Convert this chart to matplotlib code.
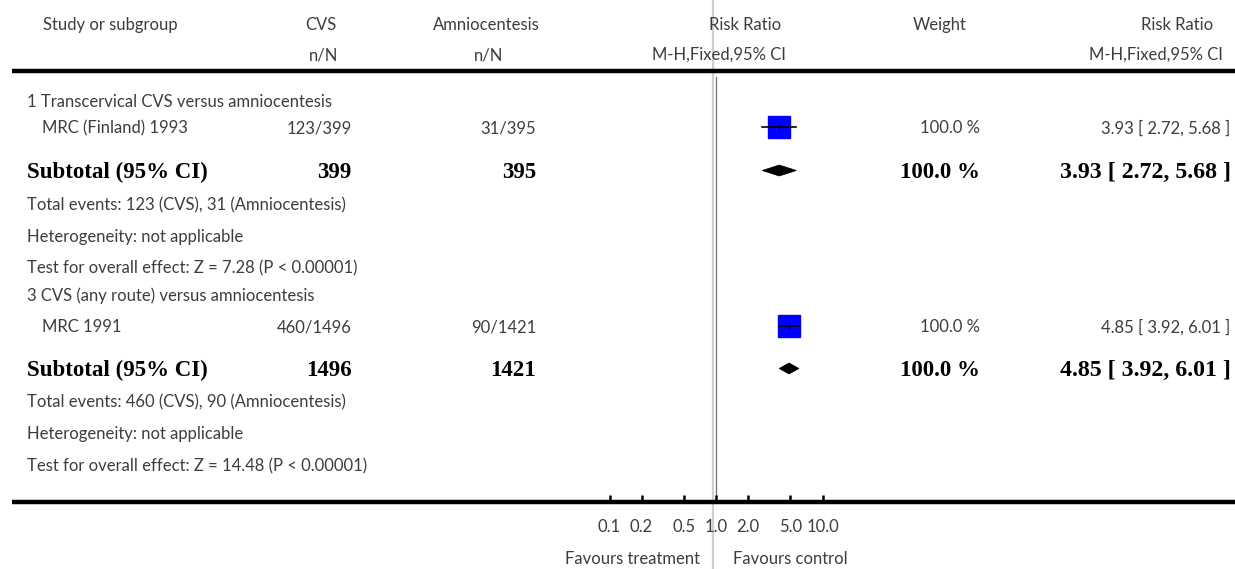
import numpy as np
import matplotlib
matplotlib.use("Agg")
import matplotlib.pyplot as plt
from matplotlib.patches import Polygon

# ---- data -------------------------------------------------------------
group_titles = ["1 Transcervical CVS versus amniocentesis",
                "3 CVS (any route) versus amniocentesis"]
study_names = ["MRC (Finland) 1993", "MRC 1991"]
cvs_events = [123, 460]
cvs_total = [399, 1496]
amnio_events = [31, 90]
amnio_total = [395, 1421]
rr_est = [3.93, 4.85]
rr_lo = [2.72, 3.92]
rr_hi = [5.68, 6.01]
weights = [100.0, 100.0]
z_values = ["7.28", "14.48"]
tick_values = [0.1, 0.2, 0.5, 1.0, 2.0, 5.0, 10.0]
tick_labels = ["0.1", "0.2", "0.5", "1.0", "2.0", "5.0", "10.0"]

W, H = 1235, 569
fig = plt.figure(figsize=(W / 100, H / 100), dpi=100)

# layout axes in pixel units
bg = fig.add_axes([0, 0, 1, 1])
bg.set_xlim(0, W)
bg.set_ylim(H, 0)
bg.axis("off")

# forest plot axes with log scale, null line at x=716 px, ~106.5 px/decade
x_null, decade = 716.0, 106.5
px_l, px_r = 560.0, 880.0
fp = fig.add_axes([px_l / W, 0, (px_r - px_l) / W, 1])
fp.set_xscale("log")
fp.set_xlim(10 ** ((px_l - x_null) / decade), 10 ** ((px_r - x_null) / decade))
fp.set_ylim(H, 0)
fp.axis("off")
fp.patch.set_alpha(0)

SANS = ["Lato", "DejaVu Sans"]
SERIF = ["Liberation Serif", "DejaVu Serif"]
TXT = "#3d3d3d"
fs = 12.0
bfs = 16.5


def t(x, y, s, ha="left", bold=False, size=None):
    if bold:
        bg.text(x, y, s, ha=ha, va="center", family=SERIF, weight="bold",
                size=size or bfs, color="black")
    else:
        bg.text(x, y, s, ha=ha, va="center", family=SANS, weight="normal",
                size=size or fs, color=TXT)


# header
t(110, 25, "Study or subgroup", ha="center")
t(321, 25, "CVS", ha="center")
t(324, 55, "n/N", ha="center")
t(486, 25, "Amniocentesis", ha="center")
t(489, 55, "n/N", ha="center")
t(745, 25, "Risk Ratio", ha="center")
t(719, 55, "M-H,Fixed,95% CI", ha="center")
t(940, 25, "Weight", ha="center")
t(1213, 25, "Risk Ratio", ha="right")
t(1223, 55, "M-H,Fixed,95% CI", ha="right")

# vertical reference lines
bg.plot([713, 713], [0, H], color="#cfcfcf", lw=1.6, zorder=1)
fp.plot([1.0, 1.0], [77, 500], color="#707070", lw=0.9, zorder=1)

# horizontal rules
bg.plot([12, W], [71, 71], color="black", lw=3.2, solid_capstyle="butt")
bg.plot([12, W], [502, 502], color="black", lw=3.2, solid_capstyle="butt")

# rows
row_sets = [
    dict(title=102, study=128, sub=172, ev=205, het=237, test=268),
    dict(title=296, study=327, sub=370, ev=402, het=434, test=466),
]
for i, r in enumerate(row_sets):
    t(27, r["title"], group_titles[i])
    t(42, r["study"], study_names[i])
    t(352, r["study"], f"{cvs_events[i]}/{cvs_total[i]}", ha="right")
    t(536, r["study"], f"{amnio_events[i]}/{amnio_total[i]}", ha="right")
    t(980, r["study"], f"{weights[i]:.1f} %", ha="right")
    t(1230, r["study"], f"{rr_est[i]:.2f} [ {rr_lo[i]:.2f}, {rr_hi[i]:.2f} ]", ha="right")

    t(27, r["sub"], "Subtotal (95% CI)", bold=True)
    t(352, r["sub"], f"{cvs_total[i]}", ha="right", bold=True)
    t(536, r["sub"], f"{amnio_total[i]}", ha="right", bold=True)
    t(980, r["sub"], f"{weights[i]:.1f} %", ha="right", bold=True)
    t(1231, r["sub"], f"{rr_est[i]:.2f} [ {rr_lo[i]:.2f}, {rr_hi[i]:.2f} ]",
      ha="right", bold=True, size=17.2)

    t(27, r["ev"], f"Total events: {cvs_events[i]} (CVS), {amnio_events[i]} (Amniocentesis)")
    t(27, r["het"], "Heterogeneity: not applicable")
    t(27, r["test"], f"Test for overall effect: Z = {z_values[i]} (P < 0.00001)")

    # study square + CI
    fp.plot([rr_est[i]], [r["study"] - 1], marker="s", ms=15.8, color="#0000ff",
            mec="#0000ff", zorder=3, linestyle="none")
    fp.plot([rr_lo[i], rr_hi[i]], [r["study"] - 1, r["study"] - 1],
            color="black", lw=1.2, zorder=4)
    fp.plot([rr_est[i], rr_est[i]], [r["study"] - 4, r["study"] + 2],
            color="black", lw=0.9, zorder=4)

    # subtotal diamond
    yc = r["sub"] - 1.5
    hh = 5.5
    fp.add_patch(Polygon([(rr_lo[i], yc), (rr_est[i], yc - hh),
                          (rr_hi[i], yc), (rr_est[i], yc + hh)],
                         closed=True, facecolor="black", edgecolor="black",
                         lw=0.5, zorder=3))

# axis ticks and labels
for v, lab in zip(tick_values, tick_labels):
    fp.plot([v, v], [494.5, 502], color="black", lw=1.8, solid_capstyle="butt")
    fp.text(v, 527, lab, ha="center", va="center", family=SANS, weight="normal",
            size=fs, color=TXT)

t(700, 559, "Favours treatment", ha="right")
t(733, 559, "Favours control", ha="left")

fig.savefig("out.png", dpi=100)
